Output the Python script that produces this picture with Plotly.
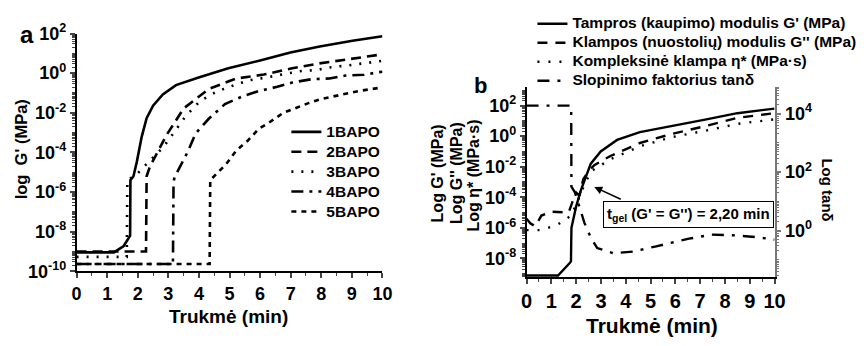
import numpy as np
import plotly.graph_objects as go

# ---------------- Panel a : log G' (MPa) vs time ----------------
t_1bapo = [0, 1.22, 1.54, 1.70, 1.75, 1.76, 1.86, 1.97, 2.13, 2.29, 2.5, 2.82, 3.25, 3.99, 4.96, 6.0, 6.99, 7.95, 9.02, 10]
g_1bapo = [-9.04, -9.04, -8.72, -8.35, -8.2, -5.4, -5.2, -4.47, -3.2, -2.27, -1.64, -1.07, -0.6, -0.22, 0.25, 0.64, 1.04, 1.35, 1.64, 1.86]

t_2bapo = [0, 2.27, 2.29, 2.4, 2.95, 3.5, 4.33, 5.22, 6.12, 7.05, 7.92, 8.8, 9.7, 10]
g_2bapo = [-9.0, -9.0, -5.2, -4.7, -3.1, -1.78, -0.79, -0.27, -0.07, 0.25, 0.49, 0.68, 0.87, 0.95]

t_3bapo = [0, 1.64, 1.66, 1.97, 2.34, 2.82, 3.2, 3.55, 4.04, 4.58, 5.16, 5.64, 6.19, 6.7, 7.3, 7.84, 8.33, 8.9, 9.4, 9.8, 10]
g_3bapo = [-9.27, -9.27, -5.4, -5.1, -4.5, -3.76, -2.96, -2.2, -1.4, -0.93, -0.6, -0.36, -0.22, -0.08, 0.1, 0.16, 0.3, 0.4, 0.49, 0.58, 0.62]

t_4bapo = [0, 3.15, 3.17, 3.2, 3.64, 3.89, 4.32, 4.85, 5.44, 5.96, 6.56, 7.08, 7.7, 8.27, 8.8, 9.4, 9.87, 10]
g_4bapo = [-9.63, -9.63, -5.5, -5.26, -3.95, -3.05, -2.3, -1.56, -1.16, -0.9, -0.69, -0.46, -0.3, -0.27, -0.12, -0.08, 0.05, 0.07]

t_5bapo = [0, 4.35, 4.37, 4.58, 4.9, 5.22, 5.6, 5.96, 6.24, 6.76, 7.2, 7.6, 8.0, 8.4, 8.85, 9.3, 9.65, 10]
g_5bapo = [-9.63, -9.63, -5.4, -5.08, -4.57, -3.9, -3.4, -2.8, -2.55, -2.0, -1.73, -1.5, -1.3, -1.16, -1.02, -0.88, -0.8, -0.72]

names_a = ["1BAPO", "2BAPO", "3BAPO", "4BAPO", "5BAPO"]

# ---------------- Panel b : G', G'', eta*, tan delta ----------------
t_gp = [0, 1.27, 1.74, 1.79, 1.81, 2.0, 2.2, 2.33, 2.59, 2.99, 3.65, 4.57, 5.89, 7.2, 8.5, 10]
gp = [-9.12, -9.12, -8.3, -8.2, -6.0, -4.6, -3.5, -2.9, -1.8, -1.0, -0.25, 0.26, 0.65, 1.08, 1.5, 1.8]

t_gpp = [0, 0.15, 0.35, 0.6, 1.0, 1.4, 1.7, 1.85, 2.0, 2.13, 2.29, 2.5, 2.73, 3.38, 4.57, 5.89, 7.2, 8.5, 10]
gpp = [-5.4, -5.7, -5.9, -5.2, -4.95, -5.0, -5.0, -4.3, -3.7, -3.9, -2.8, -2.3, -1.9, -1.3, -0.45, 0.16, 0.65, 1.2, 1.5]

t_eta = [0, 0.6, 1.25, 1.8, 2.1, 2.3, 2.6, 3.4, 4.6, 5.9, 7.2, 8.5, 10]
eta = [-6.15, -6.15, -5.8, -5.2, -4.1, -3.3, -2.3, -1.5, -0.65, -0.05, 0.35, 0.8, 1.1]

t_tan = [0, 1.8, 1.81, 1.95, 2.1, 2.33, 2.61, 2.85, 3.5, 4.3, 5.23, 6.55, 7.47, 8.5, 9.3, 10]
tan_d = [4.27, 4.27, 1.5, 1.3, 0.9, 0.27, -0.28, -0.6, -0.78, -0.72, -0.54, -0.28, -0.14, -0.17, -0.23, -0.31]

names_b = ["Tampros (kaupimo) modulis G' (MPa)",
           "Klampos (nuostolių) modulis G'' (MPa)",
           "Kompleksinė klampa η* (MPa·s)",
           "Slopinimo faktorius tanδ"]

x_ticks = list(range(0, 11))
ya_exps = [-10, -8, -6, -4, -2, 0, 2]
yb_exps = [-8, -6, -4, -2, 0, 2]
yc_exps = [0, 2, 4]

FONT = "Arial, Liberation Sans, sans-serif"
W, H = 864, 346


def pw(v):
    return np.power(10.0, np.array(v, dtype=float))


def big(s, size):
    return '<span style="font-size:%spx">%s</span>' % (size, s)


fig = go.Figure()

dash_a = ["solid", "10px,6px", "2px,8px", "12px,6px,3px,6px", "5px,5px"]
series_a = [(t_1bapo, g_1bapo), (t_2bapo, g_2bapo), (t_3bapo, g_3bapo), (t_4bapo, g_4bapo), (t_5bapo, g_5bapo)]
for (tx, gy), nm, ds in zip(series_a, names_a, dash_a):
    fig.add_trace(go.Scatter(x=tx, y=pw(gy), mode="lines", name=big(nm, 15.5),
                             line=dict(color="black", width=2.6, dash=ds),
                             xaxis="x", yaxis="y", legend="legend"))

dash_b = ["solid", "10px,8px", "2px,9px", "12px,8px,3px,8px"]
series_b = [(t_gp, gp, "y2"), (t_gpp, gpp, "y2"), (t_eta, eta, "y2"), (t_tan, tan_d, "y3")]
for (tx, gy, ya), nm, ds in zip(series_b, names_b, dash_b):
    fig.add_trace(go.Scatter(x=tx, y=pw(gy), mode="lines", name=big(nm, 15.5),
                             line=dict(color="black", width=2.4, dash=ds),
                             xaxis="x2", yaxis=ya, legend="legend2"))


def sup_ticks(exps):
    return [10.0 ** k for k in exps], ["10<sup>%d</sup>" % k for k in exps]


ya_vals, ya_text = sup_ticks(ya_exps)
yb_vals, yb_text = sup_ticks(yb_exps)
yc_vals, yc_text = sup_ticks(yc_exps)

tickfont18 = dict(family=FONT, size=18, color="black", weight="bold")
tickfont20 = dict(family=FONT, size=20, color="black", weight="bold")

common_x = dict(range=[0, 10], tickvals=x_ticks, ticks="outside", ticklen=5, tickwidth=1.5,
                showline=True, linewidth=1.5, linecolor="black", showgrid=False, zeroline=False,
                minor=dict(ticks="outside", ticklen=3, tickwidth=1.2, dtick=0.5, showgrid=False))
common_ylog = dict(type="log", ticks="outside", ticklen=5, tickwidth=1.5, showline=True, linewidth=1.5,
                   linecolor="black", showgrid=False, zeroline=False,
                   minor=dict(ticks="outside", ticklen=2.5, tickwidth=1, dtick="D1", showgrid=False))

fig.update_layout(
    width=W, height=H, margin=dict(l=0, r=0, t=0, b=0),
    paper_bgcolor="white", plot_bgcolor="white",
    font=dict(family=FONT, color="black"),
    xaxis=dict(domain=[72 / W, 384 / W], anchor="y", tickfont=tickfont18, **common_x),
    yaxis=dict(domain=[1 - 277 / H, 1 - 23 / H], anchor="x", range=[-10, 2],
               tickvals=ya_vals, ticktext=ya_text, tickfont=tickfont18, **common_ylog),
    xaxis2=dict(domain=[531 / W, 784 / W], anchor="y2", tickfont=tickfont20, **common_x),
    yaxis2=dict(domain=[1 - 283 / H, 1 - 80 / H], anchor="x2", range=[-9.22, 3.22],
                tickvals=yb_vals, ticktext=yb_text, tickfont=tickfont18, **common_ylog),
    yaxis3=dict(overlaying="y2", side="right", anchor="x2", range=[-1.59, 4.91], type="log",
                tickvals=yc_vals, ticktext=yc_text, tickfont=tickfont18,
                ticks="outside", ticklen=5, tickwidth=1.5, tickcolor="#777777",
                showline=True, linewidth=1.5, linecolor="#777777", showgrid=False, zeroline=False,
                minor=dict(ticks="outside", ticklen=2.5, tickwidth=1, dtick="D1", tickcolor="#777777",
                           showgrid=False)),
    legend=dict(x=286 / W, y=1 - 112 / H, xanchor="left", yanchor="top", bgcolor="rgba(0,0,0,0)",
                font=dict(family=FONT, size=13, color="black", weight="bold"), tracegroupgap=0),
    legend2=dict(x=537 / W, y=1 + 3 / H, xanchor="left", yanchor="top", bgcolor="rgba(0,0,0,0)",
                 font=dict(family=FONT, size=12, color="black", weight="bold"), tracegroupgap=0),
    showlegend=True,
)

bold = lambda s: dict(family=FONT, size=s, color="black", weight="bold")

annotations = [
    dict(text="a", x=21 / W, y=1 - 24 / H, xref="paper", yref="paper", showarrow=False,
         font=bold(24), xanchor="center", yanchor="middle"),
    dict(text="b", x=484 / W, y=1 - 78 / H, xref="paper", yref="paper", showarrow=False,
         font=bold(22), xanchor="center", yanchor="middle"),
    dict(text="Trukmė (min)", x=227 / W, y=1 - 325 / H, xref="paper", yref="paper", showarrow=False,
         font=bold(19), xanchor="center", yanchor="middle"),
    dict(text="Trukmė (min)", x=659 / W, y=1 - 335 / H, xref="paper", yref="paper", showarrow=False,
         font=bold(21), xanchor="center", yanchor="middle"),
    dict(text="log  G' (MPa)", x=15 / W, y=1 - 147 / H, xref="paper", yref="paper", showarrow=False,
         font=bold(16.5), textangle=-90, xanchor="center", yanchor="middle"),
    dict(text="Log G' (MPa)", x=440 / W, y=1 - 172 / H, xref="paper", yref="paper", showarrow=False,
         font=bold(16), textangle=-90, xanchor="center", yanchor="middle"),
    dict(text="Log G'' (MPa)", x=459 / W, y=1 - 172 / H, xref="paper", yref="paper", showarrow=False,
         font=bold(16), textangle=-90, xanchor="center", yanchor="middle"),
    dict(text="Log η* (MPa·s)", x=477 / W, y=1 - 175 / H, xref="paper", yref="paper", showarrow=False,
         font=bold(16), textangle=-90, xanchor="center", yanchor="middle"),
    dict(text="Log tanδ", x=838 / W, y=1 - 190 / H, xref="paper", yref="paper", showarrow=False,
         font=bold(15), textangle=90, xanchor="center", yanchor="middle"),
    dict(text="t<sub>gel</sub> (G' = G'') = 2,20 min", x=696 / W, y=1 - 216 / H, xref="paper", yref="paper",
         showarrow=False, font=bold(15), xanchor="center", yanchor="middle",
         bordercolor="black", borderwidth=1, borderpad=3, bgcolor="white"),
    dict(text="", x=2.73, y=-3.33, xref="x2", yref="y2", showarrow=True, ax=28, ay=13,
         arrowhead=2, arrowsize=1, arrowwidth=1.6, arrowcolor="black"),
]
fig.update_layout(annotations=annotations)

fig.add_shape(type="circle", xref="x2", yref="y2", xsizemode="pixel", ysizemode="pixel",
              xanchor=2.29, yanchor=-2.6, x0=-8, x1=8, y0=-8, y1=8,
              line=dict(color="black", width=1.6))

fig.write_html("out.html")
